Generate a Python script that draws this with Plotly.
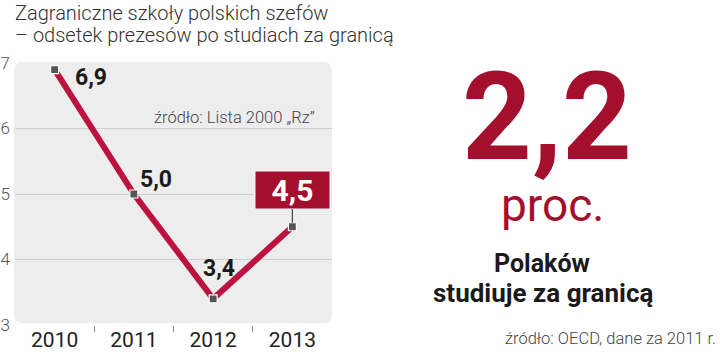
import plotly.graph_objects as go

years = ["2010", "2011", "2012", "2013"]
values = [6.9, 5.0, 3.4, 4.5]
value_labels = ["6,9", "5,0", "3,4", "4,5"]
y_ticks = [3, 4, 5, 6, 7]

title_1 = "Zagraniczne szkoły polskich szefów"
title_2 = "– odsetek prezesów po studiach za granicą"
source_chart = "źródło: Lista 2000 „Rz”"
big_number = "2,2"
big_unit = "proc."
side_text_1 = "Polaków"
side_text_2 = "studiuje za granicą"
source_side = "źródło: OECD, dane za 2011 r."

W_PX, H_PX = 720, 352
L, R, T, B = 15, 332, 63, 325  # plot area in pixels
PW, PH = R - L, B - T

def PX(px):
    return (px - L) / PW

def PY(py):
    return (B - py) / PH

RED = "#bb1240"
DARKRED = "#a50f2e"
SANS = "Roboto, sans-serif"

fig = go.Figure()
fig.add_trace(go.Scatter(
    x=years, y=values, mode="lines+markers",
    line=dict(color=RED, width=6),
    marker=dict(symbol="square", size=8, color="#555555",
                line=dict(color="white", width=1.2)),
    hoverinfo="skip", showlegend=False,
))
# invisible trace for secondary axis (boundary ticks)
fig.add_trace(go.Scatter(
    x=list(range(len(years))), y=values, xaxis="x2", mode="markers",
    marker=dict(opacity=0), hoverinfo="skip", showlegend=False,
))

# rounded gray background
x0, x1 = PX(14), PX(332)
y0, y1 = PY(323), PY(62)
rx, ry = 9 / PW, 9 / PH
path = (f"M {x0+rx},{y0} L {x1-rx},{y0} Q {x1},{y0} {x1},{y0+ry} "
        f"L {x1},{y1-ry} Q {x1},{y1} {x1-rx},{y1} L {x0+rx},{y1} "
        f"Q {x0},{y1} {x0},{y1-ry} L {x0},{y0+ry} Q {x0},{y0} {x0+rx},{y0} Z")
shapes = [dict(type="path", path=path, xref="paper", yref="paper",
               fillcolor="#ededed", line=dict(width=0), layer="below")]

annotations = []
# data labels (x as category index)
offsets = {0: (18, -8, "left"), 1: (4, 15, "left"), 2: (6, 30, "center")}
for i, (v, lab) in enumerate(zip(values, value_labels)):
    if i in offsets:
        xs, ys, xa = offsets[i]
        annotations.append(dict(
            x=i, y=v, xref="x", yref="y", text=lab, showarrow=False,
            xanchor=xa, yanchor="middle", xshift=xs, yshift=ys,
            font=dict(family=SANS, size=23, color="#1a1a1a", weight="bold"),
        ))
    else:
        annotations.append(dict(
            x=i, y=v, xref="x", yref="y", text=lab, showarrow=True,
            arrowhead=0, arrowwidth=1.2, arrowcolor="#444444",
            ax=0, ay=-37, standoff=4,
            bgcolor=DARKRED, bordercolor="#f4f4f4", borderwidth=1.5,
            width=72, height=35, borderpad=1,
            font=dict(family=SANS, size=30, color="white", weight="bold"),
        ))

annotations += [
    dict(x=PX(13), y=PY(13), xref="paper", yref="paper", text=title_1,
         showarrow=False, xanchor="left", yanchor="middle",
         font=dict(family=SANS, size=20, color="#333333", weight=300)),
    dict(x=PX(13), y=PY(35), xref="paper", yref="paper", text=title_2,
         showarrow=False, xanchor="left", yanchor="middle",
         font=dict(family=SANS, size=20, color="#333333", weight=300)),
    dict(x=PX(317), y=PY(117), xref="paper", yref="paper", text=source_chart,
         showarrow=False, xanchor="right", yanchor="middle",
         font=dict(family=SANS, size=16.5, color="#444444", weight=300)),
    dict(x=PX(547), y=PY(117), xref="paper", yref="paper", text=big_number,
         showarrow=False, xanchor="center", yanchor="middle",
         font=dict(family=SANS, size=122, color=DARKRED, weight="bold")),
    dict(x=PX(552), y=PY(205), xref="paper", yref="paper", text=big_unit,
         showarrow=False, xanchor="center", yanchor="middle",
         font=dict(family=SANS, size=46, color=DARKRED)),
    dict(x=PX(542), y=PY(263), xref="paper", yref="paper", text=side_text_1,
         showarrow=False, xanchor="center", yanchor="middle",
         font=dict(family=SANS, size=25, color="#1a1a1a", weight="bold")),
    dict(x=PX(543), y=PY(293), xref="paper", yref="paper", text=side_text_2,
         showarrow=False, xanchor="center", yanchor="middle",
         font=dict(family=SANS, size=26, color="#1a1a1a", weight="bold")),
    dict(x=PX(718), y=PY(338), xref="paper", yref="paper", text=source_side,
         showarrow=False, xanchor="right", yanchor="middle",
         font=dict(family=SANS, size=16.5, color="#444444", weight=300)),
]

fig.update_layout(
    template="none",
    width=W_PX, height=H_PX,
    margin=dict(l=L, r=W_PX - R, t=T, b=H_PX - B, pad=0, autoexpand=False),
    paper_bgcolor="white", plot_bgcolor="rgba(0,0,0,0)",
    xaxis=dict(type="category", range=[-0.5, 3.5], showgrid=False,
               zeroline=False, showline=False, ticks="", automargin=False,
               tickfont=dict(family=SANS, size=21, color="#222222"),
               fixedrange=True),
    xaxis2=dict(overlaying="x", anchor="y", range=[-0.5, 3.5],
                tickvals=[0.5, 1.5, 2.5], ticks="outside", ticklen=6,
                tickwidth=1.2, tickcolor="#888888", showticklabels=False,
                showgrid=False, zeroline=False, showline=False, side="bottom",
                automargin=False),
    yaxis=dict(range=[3, 7], tickvals=y_ticks, showgrid=True,
               gridcolor="#cfcfcf", gridwidth=1, zeroline=False,
               showline=False, ticks="", ticklabelstandoff=4, automargin=False,
               tickfont=dict(family=SANS, size=17, color="#555555", weight=300),
               fixedrange=True),
    shapes=shapes,
    annotations=annotations,
    showlegend=False,
)

fig.write_html("out.html")
